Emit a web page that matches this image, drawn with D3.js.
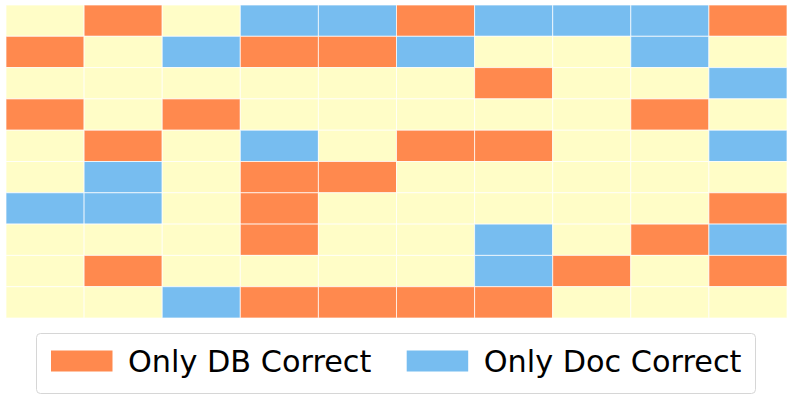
<!DOCTYPE html>
<html><head><meta charset="utf-8">
<script src="https://cdn.jsdelivr.net/npm/d3@7"></script>
<style>body{margin:0;background:#fff;}svg{display:block;}</style>
</head><body>
<svg id="chart" width="793" height="399"></svg>
<script>
// 0 = neither/both, 1 = Only DB Correct, 2 = Only Doc Correct
const rows = [0,1,2,3,4,5,6,7,8,9];
const cols = [0,1,2,3,4,5,6,7,8,9];
const grid = [
  [0,1,0,2,2,1,2,2,2,1],
  [1,0,2,1,1,2,0,0,2,0],
  [0,0,0,0,0,0,1,0,0,2],
  [1,0,1,0,0,0,0,0,1,0],
  [0,1,0,2,0,1,1,0,0,2],
  [0,2,0,1,1,0,0,0,0,0],
  [2,2,0,1,0,0,0,0,0,1],
  [0,0,0,1,0,0,2,0,1,2],
  [0,1,0,0,0,0,2,1,0,1],
  [0,0,2,1,1,1,1,0,0,0]
];
const categories = ["Neither", "Only DB Correct", "Only Doc Correct"];
const colors = ["#FFFDC7", "#FF894E", "#77BDF0"];
const legendItems = [1, 2];

const svg = d3.select("#chart");
const x = d3.scaleBand().domain(cols).range([6, 787]).padding(0);
const y = d3.scaleBand().domain(rows).range([5, 318]).padding(0);
const color = d3.scaleOrdinal().domain([0,1,2]).range(colors);

const cells = [];
grid.forEach((r, i) => r.forEach((v, j) => cells.push({row: i, col: j, v})));

svg.append("g").selectAll("rect").data(cells).join("rect")
  .attr("x", d => x(d.col))
  .attr("y", d => y(d.row))
  .attr("width", x.bandwidth())
  .attr("height", y.bandwidth())
  .attr("fill", d => color(d.v))
  .attr("stroke", "rgba(255,255,255,0.7)")
  .attr("stroke-width", 1);

// Legend
const lg = svg.append("g");
lg.append("rect")
  .attr("x", 36.5).attr("y", 333.5).attr("width", 719).attr("height", 60)
  .attr("rx", 4).attr("fill", "#fff").attr("stroke", "#d6d6d6").attr("stroke-width", 1);

const legendX = [51, 406.7];
legendItems.forEach((c, i) => {
  lg.append("rect")
    .attr("x", legendX[i]).attr("y", 350.5)
    .attr("width", 61.5).attr("height", 21)
    .attr("fill", color(c));
  lg.append("text")
    .attr("x", legendX[i] + 77) .attr("y", 372)
    .attr("font-family", "DejaVu Sans")
    .attr("font-size", 30.3)
    .attr("fill", "#000")
    .text(categories[c]);
});
</script>
</body></html>
